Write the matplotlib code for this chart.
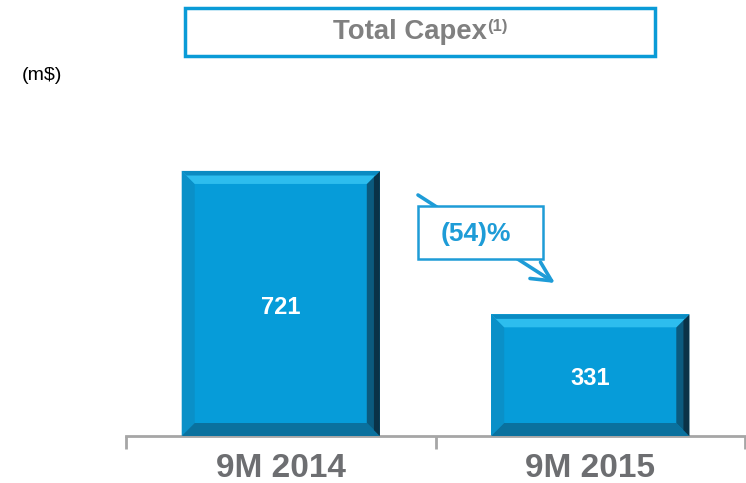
import matplotlib
matplotlib.use("Agg")
import matplotlib.pyplot as plt
from matplotlib.patches import Polygon, Rectangle, FancyArrowPatch

plt.rcParams['font.family'] = ['Liberation Sans', 'DejaVu Sans']

categories = ["9M 2014", "9M 2015"]
values = [721, 331]
value_labels = ["721", "331"]
change_label = "(54)%"
title = "Total Capex"
title_note = "(1)"
unit_label = "(m$)"

W, H = 746, 483
fig = plt.figure(figsize=(W / 100, H / 100), dpi=100)

def fx(x):
    return x / W

def fy(y):
    return 1 - y / H

ax_left, ax_right, ax_bottom, ax_top = 126, 745, 436, 100
ax = fig.add_axes([fx(ax_left), fy(ax_bottom), fx(ax_right - ax_left), (ax_bottom - ax_top) / H])
ymax = 914
ax.set_xlim(-0.5, len(categories) - 0.5)
ax.set_ylim(0, ymax)
for s in ["top", "right", "left"]:
    ax.spines[s].set_visible(False)
ax.spines["bottom"].set_color("#A6A6A6")
ax.spines["bottom"].set_linewidth(2)
ax.set_yticks([])
ax.set_xticks([i - 0.5 for i in range(len(categories) + 1)], minor=False)
ax.set_xticklabels([""] * (len(categories) + 1))
ax.tick_params(axis="x", which="major", length=9, width=2, color="#A6A6A6", direction="out")
ax.set_xticks(range(len(categories)), minor=True)
ax.set_xticklabels(categories, minor=True, fontsize=24, fontweight="bold", color="#6D6E71")
ax.tick_params(axis="x", which="minor", length=0, pad=12)
ax.patch.set_alpha(0)

face = "#069CD9"
bw = 0.64
bars = ax.bar(range(len(categories)), values, width=bw, color=face, zorder=2, edgecolor="none")

# bevel
px_per_x = (ax_right - ax_left) / (len(categories))
px_per_y = (ax_bottom - ax_top) / ymax
bev = 13
dx = bev / px_per_x
dy = bev / px_per_y
for b in bars:
    x0 = b.get_x(); x1 = x0 + b.get_width()
    y0 = 0; y1 = b.get_height()
    top = [(x0, y1), (x1, y1), (x1 - dx, y1 - dy), (x0 + dx, y1 - dy)]
    left = [(x0, y0), (x0, y1), (x0 + dx, y1 - dy), (x0 + dx, y0 + dy)]
    right = [(x1, y0), (x1, y1), (x1 - dx, y1 - dy), (x1 - dx, y0 + dy)]
    bottom = [(x0, y0), (x1, y0), (x1 - dx, y0 + dy), (x0 + dx, y0 + dy)]
    ax.add_patch(Polygon(left, closed=True, color="#0A90C8", lw=0, zorder=3))
    ax.add_patch(Polygon(bottom, closed=True, color="#0A719E", lw=0, zorder=3))
    ax.add_patch(Polygon(right, closed=True, color="#0B5A7E", lw=0, zorder=3))
    dx2 = dx * 0.45
    r2 = [(x1, y0), (x1, y1), (x1 - dx2, y1 - dy * 0.45), (x1 - dx2, y0 + dy * 0.45)]
    ax.add_patch(Polygon(r2, closed=True, color="#0A3247", lw=0, zorder=3))
    ax.add_patch(Polygon(top, closed=True, color="#2DBDEE", lw=0, zorder=3))
    dy2 = dy * 0.35
    t2 = [(x0, y1), (x1, y1), (x1 - dx * 0.35, y1 - dy2), (x0 + dx * 0.35, y1 - dy2)]
    ax.add_patch(Polygon(t2, closed=True, color="#0B8BC2", lw=0, zorder=3))

for i, (v, lab) in enumerate(zip(values, value_labels)):
    ax.text(i, v / 2 - 10, lab, ha="center", va="center", fontsize=17,
            fontweight="bold", color="white", zorder=5)

# title box
fig.patches.append(Rectangle((fx(185), fy(56)), fx(655 - 185), (56 - 8) / H,
                             transform=fig.transFigure, fill=False,
                             edgecolor="#0A9BD7", linewidth=2.5))
fig.text(fx(410), fy(32), title, ha="center", va="center", fontsize=19.8,
         fontweight="bold", color="#808080")
fig.text(fx(487), fy(26), title_note, ha="left", va="center", fontsize=12,
         fontweight="bold", color="#808080")

fig.text(fx(22), fy(76), unit_label, ha="left", va="center", fontsize=14, color="black")

# change arrow
arr = FancyArrowPatch((fx(418), fy(195)), (fx(555), fy(283)), transform=fig.transFigure,
                      arrowstyle="->,head_length=14,head_width=7", color="#1E9CD7",
                      linewidth=2.6, mutation_scale=1, shrinkA=0, shrinkB=0)
fig.patches.append(arr)
fig.patches.append(Rectangle((fx(418), fy(259)), fx(543 - 418), (259 - 206) / H,
                             transform=fig.transFigure, facecolor="white",
                             edgecolor="#1E9CD7", linewidth=1.8, zorder=5))
fig.text(fx(476), fy(234), change_label, ha="center", va="center", fontsize=19,
         fontweight="bold", color="#1E9CD7", zorder=6)

fig.savefig("out.png", dpi=100)
